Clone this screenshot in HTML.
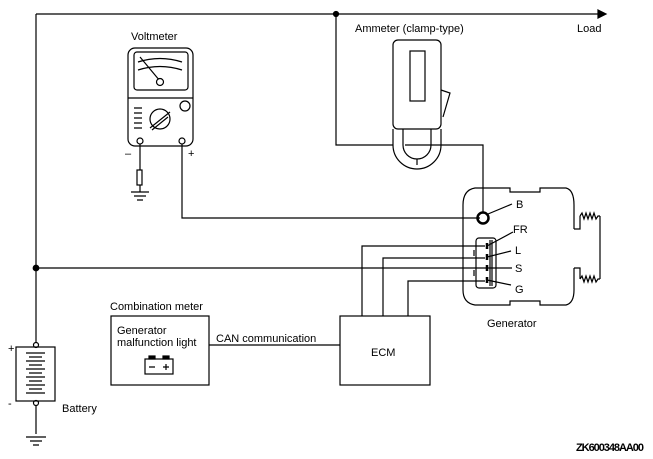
<!DOCTYPE html>
<html><head><style>body{margin:0;background:#fff}svg{display:block}text{font-family:"Liberation Sans",sans-serif;font-size:11px;fill:#000}</style></head><body>
<svg width="653" height="459" viewBox="0 0 653 459" fill="none" stroke="#000" stroke-width="1.2">
<path d="M36 14H598"/><path d="M598 10L606 14L598 18Z" fill="#000"/>
<circle cx="336" cy="14" r="2.5" fill="#000"/>
<text x="577" y="32" stroke="none">Load</text>
<path d="M36 14V343"/>
<circle cx="36" cy="268" r="2.8" fill="#000"/>
<path d="M36 268H487"/>
<text x="131" y="40" stroke="none">Voltmeter</text>
<rect x="128" y="48" width="65" height="98" rx="7"/>
<rect x="134" y="52" width="54" height="38" rx="3"/>
<path d="M128 98H193"/>
<path d="M138 62Q160 55 182 62M138 70Q160 63 182 70"/>
<path d="M140 57L160 81"/><circle cx="160" cy="82" r="3.5" fill="#fff"/>
<circle cx="185" cy="106" r="5"/>
<circle cx="160" cy="119" r="10"/>
<path d="M150 128L170 112M152 130L168 117"/>
<path d="M134 108h8M134 113h8M134 118h8M134 123h8M134 128h8"/>
<circle cx="140" cy="141" r="3"/><circle cx="182" cy="141" r="3"/>
<text x="125" y="157" stroke="none">–</text><text x="188" y="157" stroke="none" font-size="9">+</text>
<path d="M140 144V170M140 185V192"/><rect x="137" y="170" width="5" height="15"/>
<path d="M131 192h18M134 196h12M137 200h6"/>
<path d="M182 144V218H480"/>
<text x="355" y="32" stroke="none">Ammeter (clamp-type)</text>
<path d="M336 14V145H393"/>
<rect x="393" y="40" width="48" height="89" rx="5"/>
<rect x="410" y="51" width="15" height="50"/>
<path d="M441 90L450 93L443 117"/>
<path d="M393 129V145A24 24 0 0 0 441 145V129"/>
<path d="M403 129V145A14 14 0 0 0 431 145V129"/>
<path d="M417 159V165"/>
<path d="M405 145H483V212"/>
<!-- generator -->
<path d="M574 229V205Q574 190 566 188H540V192H510V188H475Q463 190 463 205V290Q463 303 475 305H510V301H540V305H566Q574 303 574 290V268"/>
<circle cx="483" cy="218" r="5.5" stroke-width="2.5"/>
<path d="M488 214L512 204"/><text x="516" y="208" stroke="none">B</text>
<rect x="476" y="238" width="20" height="50" rx="3"/>
<path d="M490 240V286M492 240V286M474 250v6M474 270v6"/>
<path d="M487 243v6M487 254v6M487 265v6M487 277v6" stroke-width="2.5"/>
<path d="M487 246L513 232M487 257L511 251M487 268H512M487 280L511 285"/>
<text x="513" y="233" stroke="none">FR</text>
<text x="515" y="254" stroke="none">L</text>
<text x="515" y="272" stroke="none">S</text>
<text x="515" y="293" stroke="none">G</text>
<text x="487" y="327" stroke="none">Generator</text>
<path d="M574 229H580V216M574 268H580V279M600 216V279"/>
<path d="M580 216L582 213L584 219L586 213L588 219L590 213L592 219L594 213L596 219L598 216H600M580 279L582 276L584 282L586 276L588 282L590 276L592 282L594 276L596 282L598 279H600"/>
<!-- ECM -->
<rect x="340" y="316" width="90" height="69"/>
<text x="371" y="356" stroke="none">ECM</text>
<path d="M362 316V246H485M383 316V258H485M408 316V281H485"/>
<text x="110" y="310" stroke="none">Combination meter</text>
<rect x="111" y="316" width="98" height="69"/>
<text x="117" y="334" stroke="none">Generator</text>
<text x="117" y="346" stroke="none">malfunction light</text>
<rect x="145" y="359" width="28" height="15"/>
<rect x="149" y="356" width="6" height="3" fill="#000"/><rect x="163" y="356" width="6" height="3" fill="#000"/>
<path d="M149 367h6M163 367h6M166 364v6"/>
<path d="M209 345H340"/>
<text x="216" y="342" stroke="none">CAN communication</text>
<circle cx="36" cy="345" r="2.5"/>
<rect x="16" y="347" width="39" height="54"/>
<path d="M26 353h19M29 357h13M26 361h19M29 365h13M26 369h19M29 373h13M26 377h19M29 381h13M26 385h19M29 389h13M26 393h19"/>
<circle cx="36" cy="403" r="2.5"/>
<text x="8" y="352" stroke="none" font-size="8">+</text><text x="8" y="407" stroke="none">-</text>
<text x="62" y="412" stroke="none">Battery</text>
<path d="M36 406V434M26 437h20M30 441h12M33 445h6"/>
<text x="576" y="451" stroke="none" font-size="8" font-weight="bold" textLength="68">ZK600348AA00</text>
</svg>
</body></html>
